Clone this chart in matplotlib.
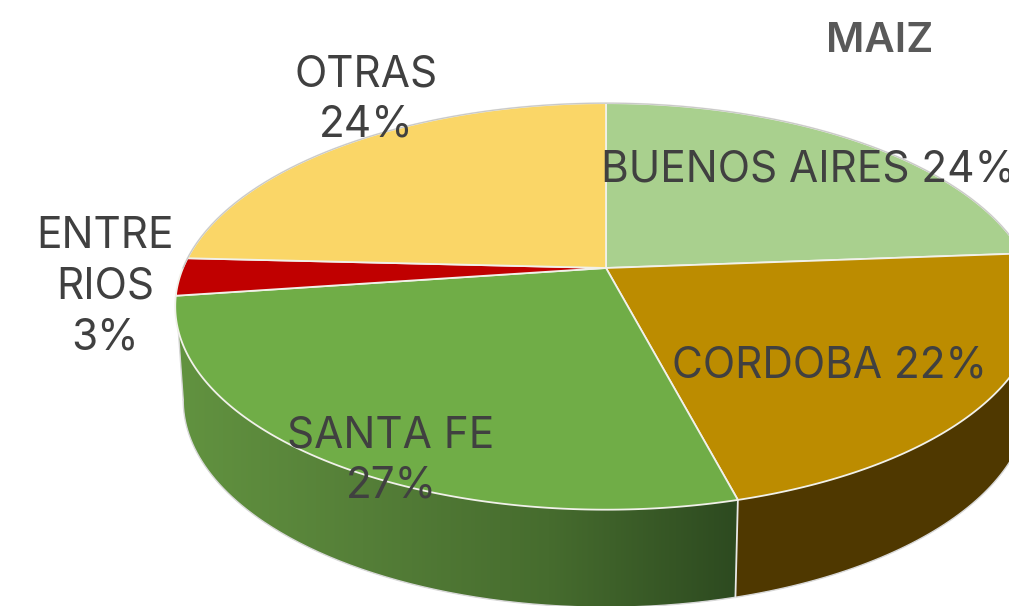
import numpy as np
import matplotlib
matplotlib.use("Agg")
import matplotlib.pyplot as plt
from matplotlib.colors import LinearSegmentedColormap
from matplotlib.patches import Polygon

categories = ["BUENOS AIRES", "CORDOBA", "SANTA FE", "ENTRE RIOS", "OTRAS"]
values = [23.8, 22.1, 26.9, 3.0, 24.2]
percent_labels = ["24%", "22%", "27%", "3%", "24%"]
top_colors = ["#A9D08E", "#BC8C00", "#70AD47", "#C00000", "#FAD667"]
wall_colors = ["#629340", "#557F38", "#466C2E", "#2D4A20"]
wall_brown = "#4F3800"
text_color = "#404040"
title_color = "#595959"
FONT = "Inter"

APEX = (606.0, 268.0)
K, A, B = 0.189, 196.0, 423.0
TOP_C = (606.0, 306.0)
BOT_C = (606.0, 400.0)
SX, SY = 423.0 / 431.0, 207.0 / 203.5


def project(theta):
    x, y = np.sin(theta), np.cos(theta)
    w = 1 + K * y
    return APEX[0] + B * x / w, APEX[1] - A * y / w


def lower(px, py):
    return BOT_C[0] + SX * (px - TOP_C[0]), BOT_C[1] + SY * (py - TOP_C[1])


fig = plt.figure(figsize=(10.09, 6.06), dpi=100)
ax = fig.add_axes([0, 0, 1, 1])
ax.axis("off")

frac = np.cumsum([0] + values) / np.sum(values) * 2 * np.pi

# side wall: Cordoba flat
th = np.linspace(frac[1], frac[2], 80)
px, py = project(th)
lx, ly = lower(px, py)
ax.fill(np.r_[px, lx[::-1]], np.r_[py, ly[::-1]], color=wall_brown, lw=0, zorder=2)
ax.plot(lx, ly, color="#d8d8d8", lw=1.0, zorder=2)

# side wall: Santa Fe with a left-to-right gradient clipped to the wall
th = np.linspace(frac[2], frac[3], 240)
px, py = project(th)
lx, ly = lower(px, py)
low_end = np.argmin(lx)
cmap = LinearSegmentedColormap.from_list("wall", wall_colors)
poly = Polygon(np.c_[np.r_[px, lx[low_end::-1]], np.r_[py, ly[low_end::-1]]], closed=True,
               facecolor="none", edgecolor="none", transform=ax.transData)
ax.add_patch(poly)
im = ax.imshow(np.linspace(0, 1, 256)[None, :], cmap=cmap, aspect="auto",
               extent=(175, 737, 620, 280), zorder=2, interpolation="bilinear")
im.set_clip_path(poly)
ax.plot(lx[:low_end + 1], ly[:low_end + 1], color="#d8d8d8", lw=1.0, zorder=3)
ax.plot([px[0], lx[0]], [py[0], ly[0]], color="#e8e8e8", lw=1.3, zorder=3)
ax.plot([px[-1], lx[low_end]], [py[-1], ly[low_end]], color="#d8d8d8", lw=1.0, zorder=3)

# top face
for i, c in enumerate(top_colors):
    th = np.linspace(frac[i], frac[i + 1], 160)
    px, py = project(th)
    ax.fill(np.r_[APEX[0], px], np.r_[APEX[1], py], facecolor=c, edgecolor="#F1F1EA",
            lw=1.3, joinstyle="round", zorder=4)
th = np.linspace(-np.pi / 2, np.pi * 0.55, 200)
px, py = project(th)
ax.plot(px, py, color="#C9C9C9", lw=0.9, zorder=4)

ax.set_xlim(0, 1009)
ax.set_ylim(606, 0)

label_style = dict(family=FONT, fontsize=30.5, color=text_color,
                   ha="center", va="center", linespacing=1.31, zorder=6)
labels = [
    (f"{categories[0]} {percent_labels[0]}", 808.5, 170),
    (f"{categories[1]} {percent_labels[1]}", 829, 366),
    (f"{categories[2]}\n{percent_labels[2]}", 391, 461),
    ("ENTRE\nRIOS\n" + percent_labels[3], 105, 287),
    (f"{categories[4]}\n{percent_labels[4]}", 366, 100),
]
for txt, x, y in labels:
    ax.text(x, y, txt, **label_style)
ax.text(880, 41, "MAIZ", family=FONT, fontweight="semibold", fontsize=30, color=title_color,
        ha="center", va="center", zorder=6)

fig.savefig("out.png", dpi=100, facecolor="white")
